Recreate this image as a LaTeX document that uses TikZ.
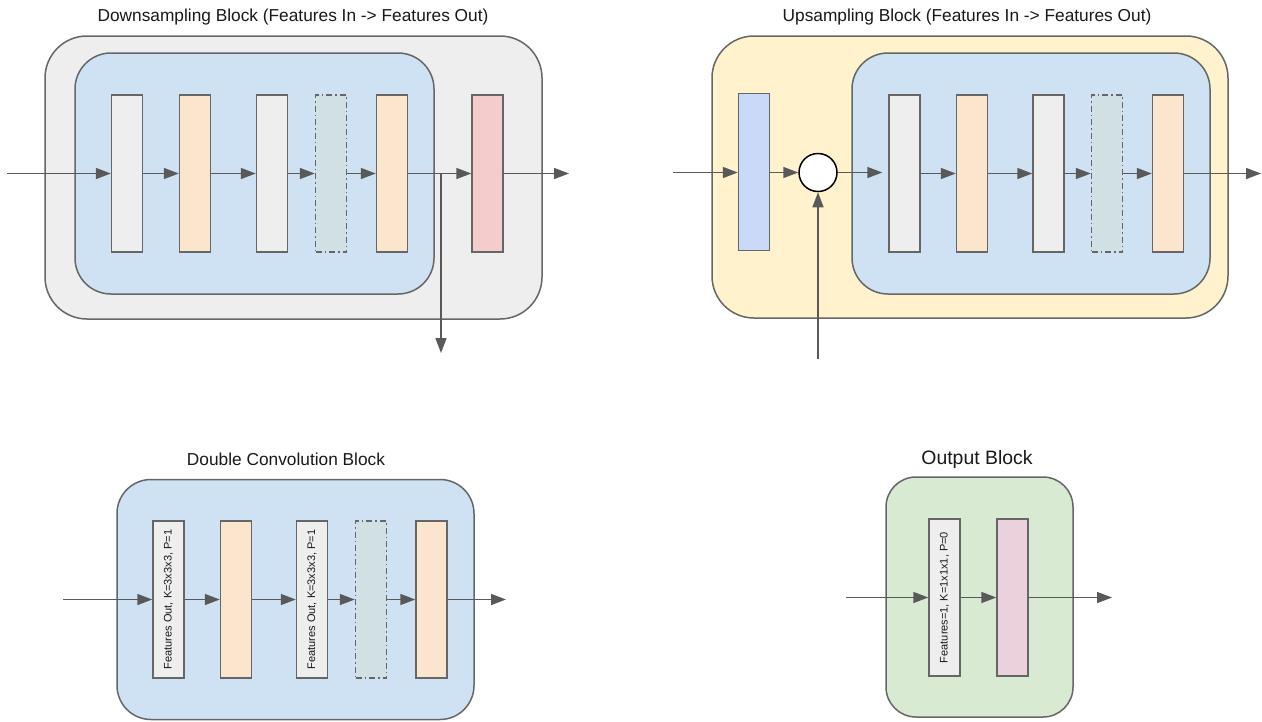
\documentclass[tikz,border=0pt]{standalone}
\usepackage{fontspec}
\setmainfont{Liberation Sans}
\usetikzlibrary{arrows.meta}
\definecolor{edge}{HTML}{595959}
\definecolor{boxline}{HTML}{666666}
\definecolor{grayfill}{HTML}{EEEEEE}
\definecolor{bluefill}{HTML}{CFE2F3}
\definecolor{yellowfill}{HTML}{FFF2CC}
\definecolor{greenfill}{HTML}{D9EAD3}
\definecolor{orangefill}{HTML}{FCE5CD}
\definecolor{tealfill}{HTML}{D0E0E3}
\definecolor{pinkfill}{HTML}{F4CCCC}
\definecolor{mauvefill}{HTML}{EAD1DC}
\definecolor{upblue}{HTML}{C9DAF8}
\begin{document}
\begin{tikzpicture}[x=1pt,y=-1pt,
  container/.style={draw=boxline, line width=1.5pt, inner sep=0pt},
  layer/.style={draw=boxline, line width=1.4pt, minimum width=31pt, minimum height=157pt, inner sep=0pt},
  graylayer/.style={layer, fill=grayfill},
  orangelayer/.style={layer, fill=orangefill},
  droplayer/.style={layer, fill=tealfill, dash pattern=on 6pt off 3pt on 1.5pt off 3pt},
  arr/.style={draw=edge, line width=1.5pt, -{Triangle[length=15pt,width=11pt]}},
  title/.style={font=\fontsize{17.3}{20}\selectfont, text=black!90},
  vlabel/.style={rotate=90, font=\fontsize{11}{13}\selectfont, text=black!90, inner sep=0pt}
]
\fill[white] (0,0) rectangle (1262,721);
\useasboundingbox (0,0) rectangle (1262,721);

% ---------------- Downsampling block ----------------
\node[title] (dstitle) at (293,17) {Downsampling Block (Features In -> Features Out)};
\node[container, fill=grayfill, rounded corners=42pt, minimum width=497pt, minimum height=283pt] (dsouter) at (293.5,177.5) {};
\node[container, fill=bluefill, rounded corners=36pt, minimum width=359pt, minimum height=241pt] (dsinner) at (254.5,173.5) {};
\node[graylayer] (d1) at (127,173.5) {};
\node[orangelayer] (d2) at (195,173.5) {};
\node[graylayer] (d3) at (272,173.5) {};
\node[droplayer] (d4) at (331,173.5) {};
\node[orangelayer] (d5) at (392,173.5) {};
\node[layer, fill=pinkfill] (d6) at (487.5,173.5) {};
\coordinate (dsin) at (7,173.5);
\coordinate (dsout) at (569,173.5);
\coordinate (dsbranch) at (441,173.5);
\coordinate (dsdown) at (441,353);
\draw[arr] (dsin) -- (d1.west);
\draw[arr] (d1.east) -- (d2.west);
\draw[arr] (d2.east) -- (d3.west);
\draw[arr] (d3.east) -- (d4.west);
\draw[arr] (d4.east) -- (d5.west);
\draw[arr] (d5.east) -- (d6.west);
\draw[arr] (d6.east) -- (dsout);
\draw[arr] (dsbranch) -- (dsdown);

% ---------------- Upsampling block ----------------
\node[title] (ustitle) at (967,17) {Upsampling Block (Features In -> Features Out)};
\node[container, fill=yellowfill, rounded corners=42pt, minimum width=516pt, minimum height=282pt] (usouter) at (970,177) {};
\node[container, fill=bluefill, rounded corners=36pt, minimum width=358pt, minimum height=241pt] (usinner) at (1031,173.5) {};
\node[layer, fill=upblue] (u0) at (754,172) {};
\node[circle, draw=black, line width=1.5pt, fill=white, minimum size=38pt, inner sep=0pt] (cat) at (818,172.5) {};
\node[graylayer] (u1) at (904.5,173.5) {};
\node[orangelayer] (u2) at (972,173.5) {};
\node[graylayer] (u3) at (1048.5,173.5) {};
\node[droplayer] (u4) at (1107,173.5) {};
\node[orangelayer] (u5) at (1168,173.5) {};
\coordinate (usin) at (673,172.5);
\coordinate (usout) at (1261,173.5);
\coordinate (usskip) at (818,359);
\draw[arr] (usin) -- (u0.west |- usin);
\draw[arr] (u0.east |- cat) -- (cat.west);
\draw[arr, shorten >=6pt] (cat.east) -- (u1.west |- cat);
\draw[arr] (usskip) -- (cat.south);
\draw[arr] (u1.east) -- (u2.west);
\draw[arr] (u2.east) -- (u3.west);
\draw[arr] (u3.east) -- (u4.west);
\draw[arr] (u4.east) -- (u5.west);
\draw[arr] (u5.east) -- (usout);

% ---------------- Double convolution block ----------------
\node[title] (dctitle) at (286,459) {Double Convolution Block};
\node[container, fill=bluefill, rounded corners=34pt, minimum width=357pt, minimum height=240pt] (dcbox) at (295.5,599.5) {};
\node[graylayer] (c1) at (168.5,599.5) {};
\node[vlabel] (c1t) at (c1) {Features Out, K=3x3x3, P=1};
\node[orangelayer] (c2) at (236,599.5) {};
\node[graylayer] (c3) at (312,599.5) {};
\node[vlabel] (c3t) at (c3) {Features Out, K=3x3x3, P=1};
\node[droplayer] (c4) at (371,599.5) {};
\node[orangelayer] (c5) at (431.5,599.5) {};
\coordinate (dcin) at (63,599.5);
\coordinate (dcout) at (506,599.5);
\draw[arr] (dcin) -- (c1.west);
\draw[arr] (c1.east) -- (c2.west);
\draw[arr] (c2.east) -- (c3.west);
\draw[arr] (c3.east) -- (c4.west);
\draw[arr] (c4.east) -- (c5.west);
\draw[arr] (c5.east) -- (dcout);

% ---------------- Output block ----------------
\node[font=\fontsize{19.4}{23}\selectfont, text=black!90] (obtitle) at (977,459) {Output Block};
\node[container, fill=greenfill, rounded corners=30pt, minimum width=187pt, minimum height=240pt] (obbox) at (979.5,597) {};
\node[graylayer] (o1) at (944.5,597.5) {};
\node[vlabel] (o1t) at (o1) {Features=1, K=1x1x1, P=0};
\node[layer, fill=mauvefill] (o2) at (1012.5,597.5) {};
\coordinate (obin) at (846,597.5);
\coordinate (obout) at (1112,597.5);
\draw[arr] (obin) -- (o1.west);
\draw[arr] (o1.east) -- (o2.west);
\draw[arr] (o2.east) -- (obout);
\end{tikzpicture}
\end{document}
